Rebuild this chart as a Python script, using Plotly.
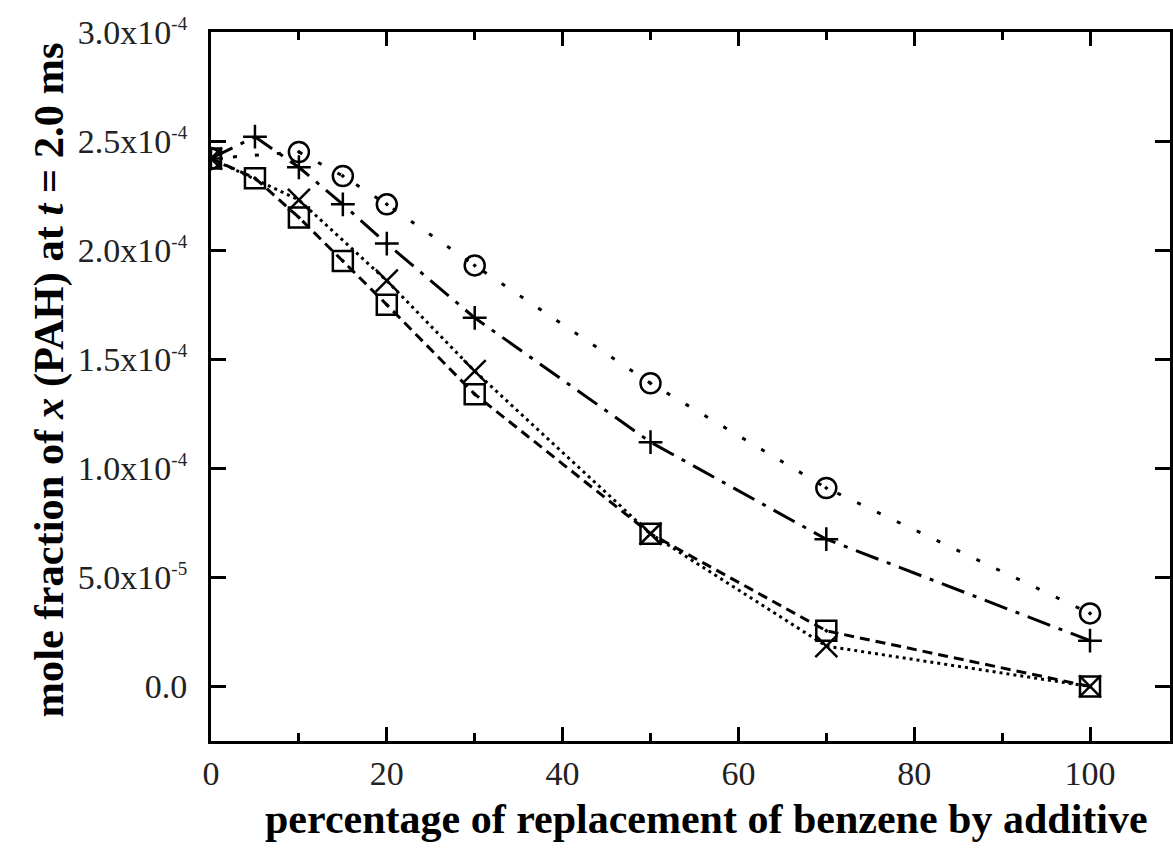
import plotly.graph_objects as go

# Data
x_circle = [0, 10, 15, 20, 30, 50, 70, 100]
y_circle = [2.42e-4, 2.45e-4, 2.34e-4, 2.21e-4, 1.93e-4, 1.39e-4, 0.91e-4, 0.335e-4]

x_plus = [0, 5, 10, 15, 20, 30, 50, 70, 100]
y_plus = [2.42e-4, 2.52e-4, 2.38e-4, 2.21e-4, 2.03e-4, 1.69e-4, 1.12e-4, 0.675e-4, 0.21e-4]

x_cross = [0, 10, 20, 30, 50, 70, 100]
y_cross = [2.42e-4, 2.23e-4, 1.86e-4, 1.445e-4, 0.70e-4, 0.185e-4, 0.0]

x_square = [0, 5, 10, 15, 20, 30, 50, 70, 100]
y_square = [2.42e-4, 2.33e-4, 2.15e-4, 1.95e-4, 1.75e-4, 1.34e-4, 0.70e-4, 0.255e-4, 0.0]

y_tickvals = [0.0, 5e-5, 1e-4, 1.5e-4, 2e-4, 2.5e-4, 3e-4]
SUP = "<sup><span style='font-size:19px'>{}</span></sup>"
y_ticktext = ["0.0", "5.0x10" + SUP.format("-5"), "1.0x10" + SUP.format("-4"), "1.5x10" + SUP.format("-4"),
              "2.0x10" + SUP.format("-4"), "2.5x10" + SUP.format("-4"), "3.0x10" + SUP.format("-4")]
x_tickvals = [0, 20, 40, 60, 80, 100]
x_ticktext = ["0", "20", "40", "60", "80", "100"]

FONT = "Liberation Serif"

fig = go.Figure()

fig.add_trace(go.Scatter(
    x=x_circle, y=y_circle, mode="lines+markers",
    line=dict(color="black", width=3, dash="4px,18px"),
    marker=dict(symbol="circle-open-dot", size=20, color="black", line=dict(width=2.5, color="black")),
))
fig.add_trace(go.Scatter(
    x=x_plus, y=y_plus, mode="lines+markers",
    line=dict(color="black", width=3, dash="24px,9px,4px,9px"),
    marker=dict(symbol="cross-thin-open", size=17, color="black", line=dict(width=2.5, color="black")),
))
fig.add_trace(go.Scatter(
    x=x_cross, y=y_cross, mode="lines+markers",
    line=dict(color="black", width=3, dash="3px,4px"),
    marker=dict(symbol="x-thin-open", size=22, color="black", line=dict(width=2.5, color="black")),
))
fig.add_trace(go.Scatter(
    x=x_square, y=y_square, mode="lines+markers",
    line=dict(color="black", width=3, dash="10px,6px"),
    marker=dict(symbol="square-open-dot", size=20, color="black", line=dict(width=2.5, color="black")),
))

fig.update_layout(
    width=1173, height=861,
    margin=dict(l=211, r=0, t=32, b=120),
    paper_bgcolor="white", plot_bgcolor="white",
    showlegend=False,
    font=dict(family=FONT, color="black", size=34),
)

fig.update_xaxes(
    range=[0, 109.1], showgrid=False, zeroline=False,
    showline=True, linecolor="black", linewidth=3, mirror="ticks",
    ticks="inside", ticklen=14, tickwidth=3, tickcolor="black",
    tickvals=x_tickvals, ticktext=x_ticktext,
    tickfont=dict(family=FONT, size=34, color="#222"),
    minor=dict(tickvals=[10, 30, 50, 70, 90], ticks="inside", ticklen=8, tickwidth=3, tickcolor="black"),
)
fig.update_yaxes(
    range=[-2.5e-5, 3.0e-4], showgrid=False, zeroline=False,
    showline=True, linecolor="black", linewidth=3, mirror="ticks",
    ticks="inside", ticklen=15, tickwidth=3, tickcolor="black",
    tickvals=y_tickvals, ticktext=y_ticktext,
    tickfont=dict(family=FONT, size=34, color="#222"),
    ticklabelstandoff=14,
)

fig.add_annotation(
    text="<b>mole fraction of <i>x</i> (PAH) at <i>t</i> = 2.0 ms</b>",
    xref="paper", yref="paper", x=0, y=0.5, xshift=-163, yshift=6, xanchor="center", yanchor="middle",
    textangle=-90, showarrow=False, font=dict(family=FONT, size=42.5, color="black"),
)
fig.add_annotation(
    text="<b>percentage of replacement of benzene by additive</b>",
    xref="paper", yref="paper", x=0.5, y=0, yshift=-78, xshift=16, xanchor="center", yanchor="middle",
    showarrow=False, font=dict(family=FONT, size=42, color="black"),
)

fig.write_html("out.html", config={"displayModeBar": False},
               post_script="document.body.style.margin='0';document.body.style.overflow='hidden';")
